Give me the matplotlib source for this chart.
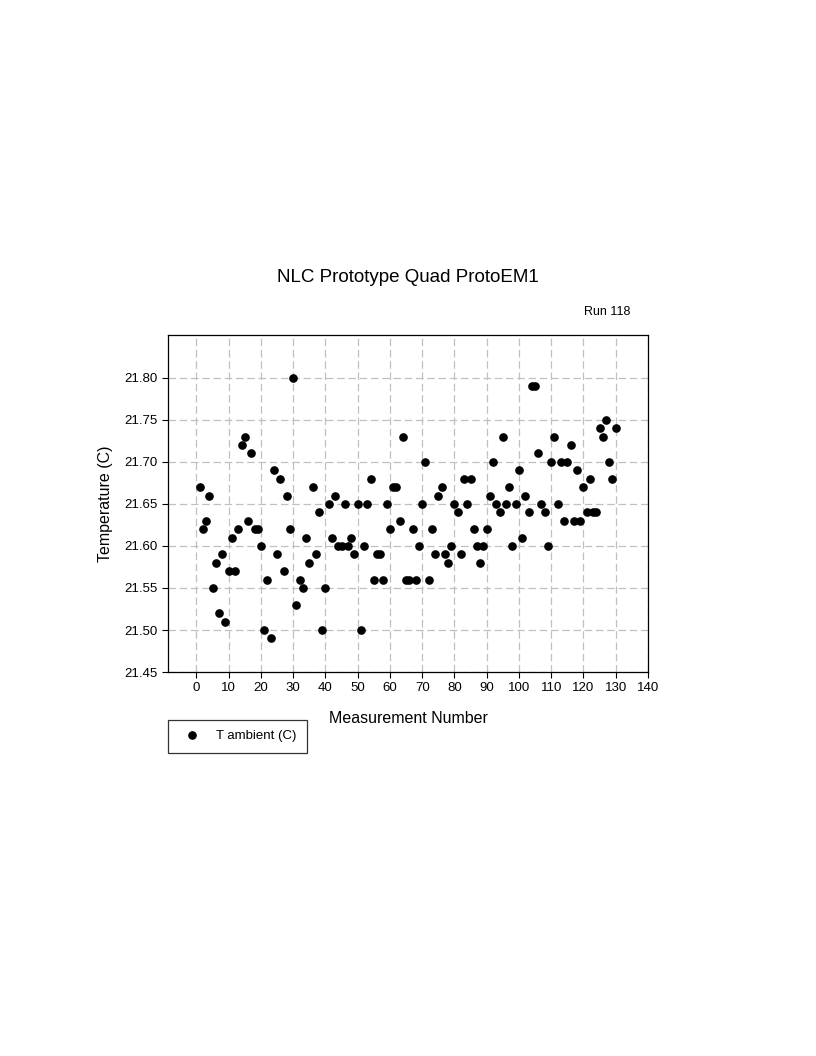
import numpy as np
import matplotlib.pyplot as plt

plt.rcParams['font.family'] = ['Liberation Sans', 'DejaVu Sans']

meas = np.arange(1, 131)
t_amb = [21.67, 21.62, 21.63, 21.66, 21.55, 21.58, 21.52, 21.59, 21.51, 21.57,
         21.61, 21.57, 21.62, 21.72, 21.73, 21.63, 21.71, 21.62, 21.62, 21.60,
         21.50, 21.56, 21.49, 21.69, 21.59, 21.68, 21.57, 21.66, 21.62, 21.80,
         21.53, 21.56, 21.55, 21.61, 21.58, 21.67, 21.59, 21.64, 21.50, 21.55,
         21.65, 21.61, 21.66, 21.60, 21.60, 21.65, 21.60, 21.61, 21.59, 21.65,
         21.50, 21.60, 21.65, 21.68, 21.56, 21.59, 21.59, 21.56, 21.65, 21.62,
         21.67, 21.67, 21.63, 21.73, 21.56, 21.56, 21.62, 21.56, 21.60, 21.65,
         21.70, 21.56, 21.62, 21.59, 21.66, 21.67, 21.59, 21.58, 21.60, 21.65,
         21.64, 21.59, 21.68, 21.65, 21.68, 21.62, 21.60, 21.58, 21.60, 21.62,
         21.66, 21.70, 21.65, 21.64, 21.73, 21.65, 21.67, 21.60, 21.65, 21.69,
         21.61, 21.66, 21.64, 21.79, 21.79, 21.71, 21.65, 21.64, 21.60, 21.70,
         21.73, 21.65, 21.70, 21.63, 21.70, 21.72, 21.63, 21.69, 21.63, 21.67,
         21.64, 21.68, 21.64, 21.64, 21.74, 21.73, 21.75, 21.70, 21.68, 21.74]

xticks = np.arange(0, 141, 10)
yticks = [21.45, 21.50, 21.55, 21.60, 21.65, 21.70, 21.75, 21.80]

fig = plt.figure(figsize=(8.16, 10.56), dpi=100)
ax = fig.add_axes([0.206, 0.3636, 0.588, 0.3192])

ax.plot(meas, t_amb, 'o', color='black', markersize=5.2, label='T ambient (C)')

ax.set_xlim(-8.8, 140)
ax.set_ylim(21.45, 21.851)
ax.set_xticks(xticks)
ax.set_yticks(yticks)
ax.set_yticklabels(['%.2f' % v for v in yticks])
ax.tick_params(direction='out', length=4, width=0.8, labelsize=9.5, color='black')
ax.grid(True, color='#c0c0c0', linestyle=(0, (6, 3)), linewidth=0.9)
ax.set_axisbelow(True)
for s in ax.spines.values():
    s.set_linewidth(0.9)

ax.set_xlabel('Measurement Number', fontsize=11.5, labelpad=12)
ax.set_ylabel('Temperature (C)', fontsize=11.5, labelpad=8)

fig.text(0.5, 0.737, 'NLC Prototype Quad ProtoEM1', ha='center', va='center', fontsize=13.5)
fig.text(0.772, 0.705, 'Run 118', ha='right', va='center', fontsize=9)

leg = ax.legend(loc='upper left', bbox_to_anchor=(0.206, 0.3185), bbox_transform=fig.transFigure,
                frameon=True, fancybox=False, edgecolor='black', fontsize=9.5,
                borderpad=0.8, handletextpad=0.8, borderaxespad=0)
leg.get_frame().set_linewidth(0.9)

fig.savefig('out.png', dpi=100)
